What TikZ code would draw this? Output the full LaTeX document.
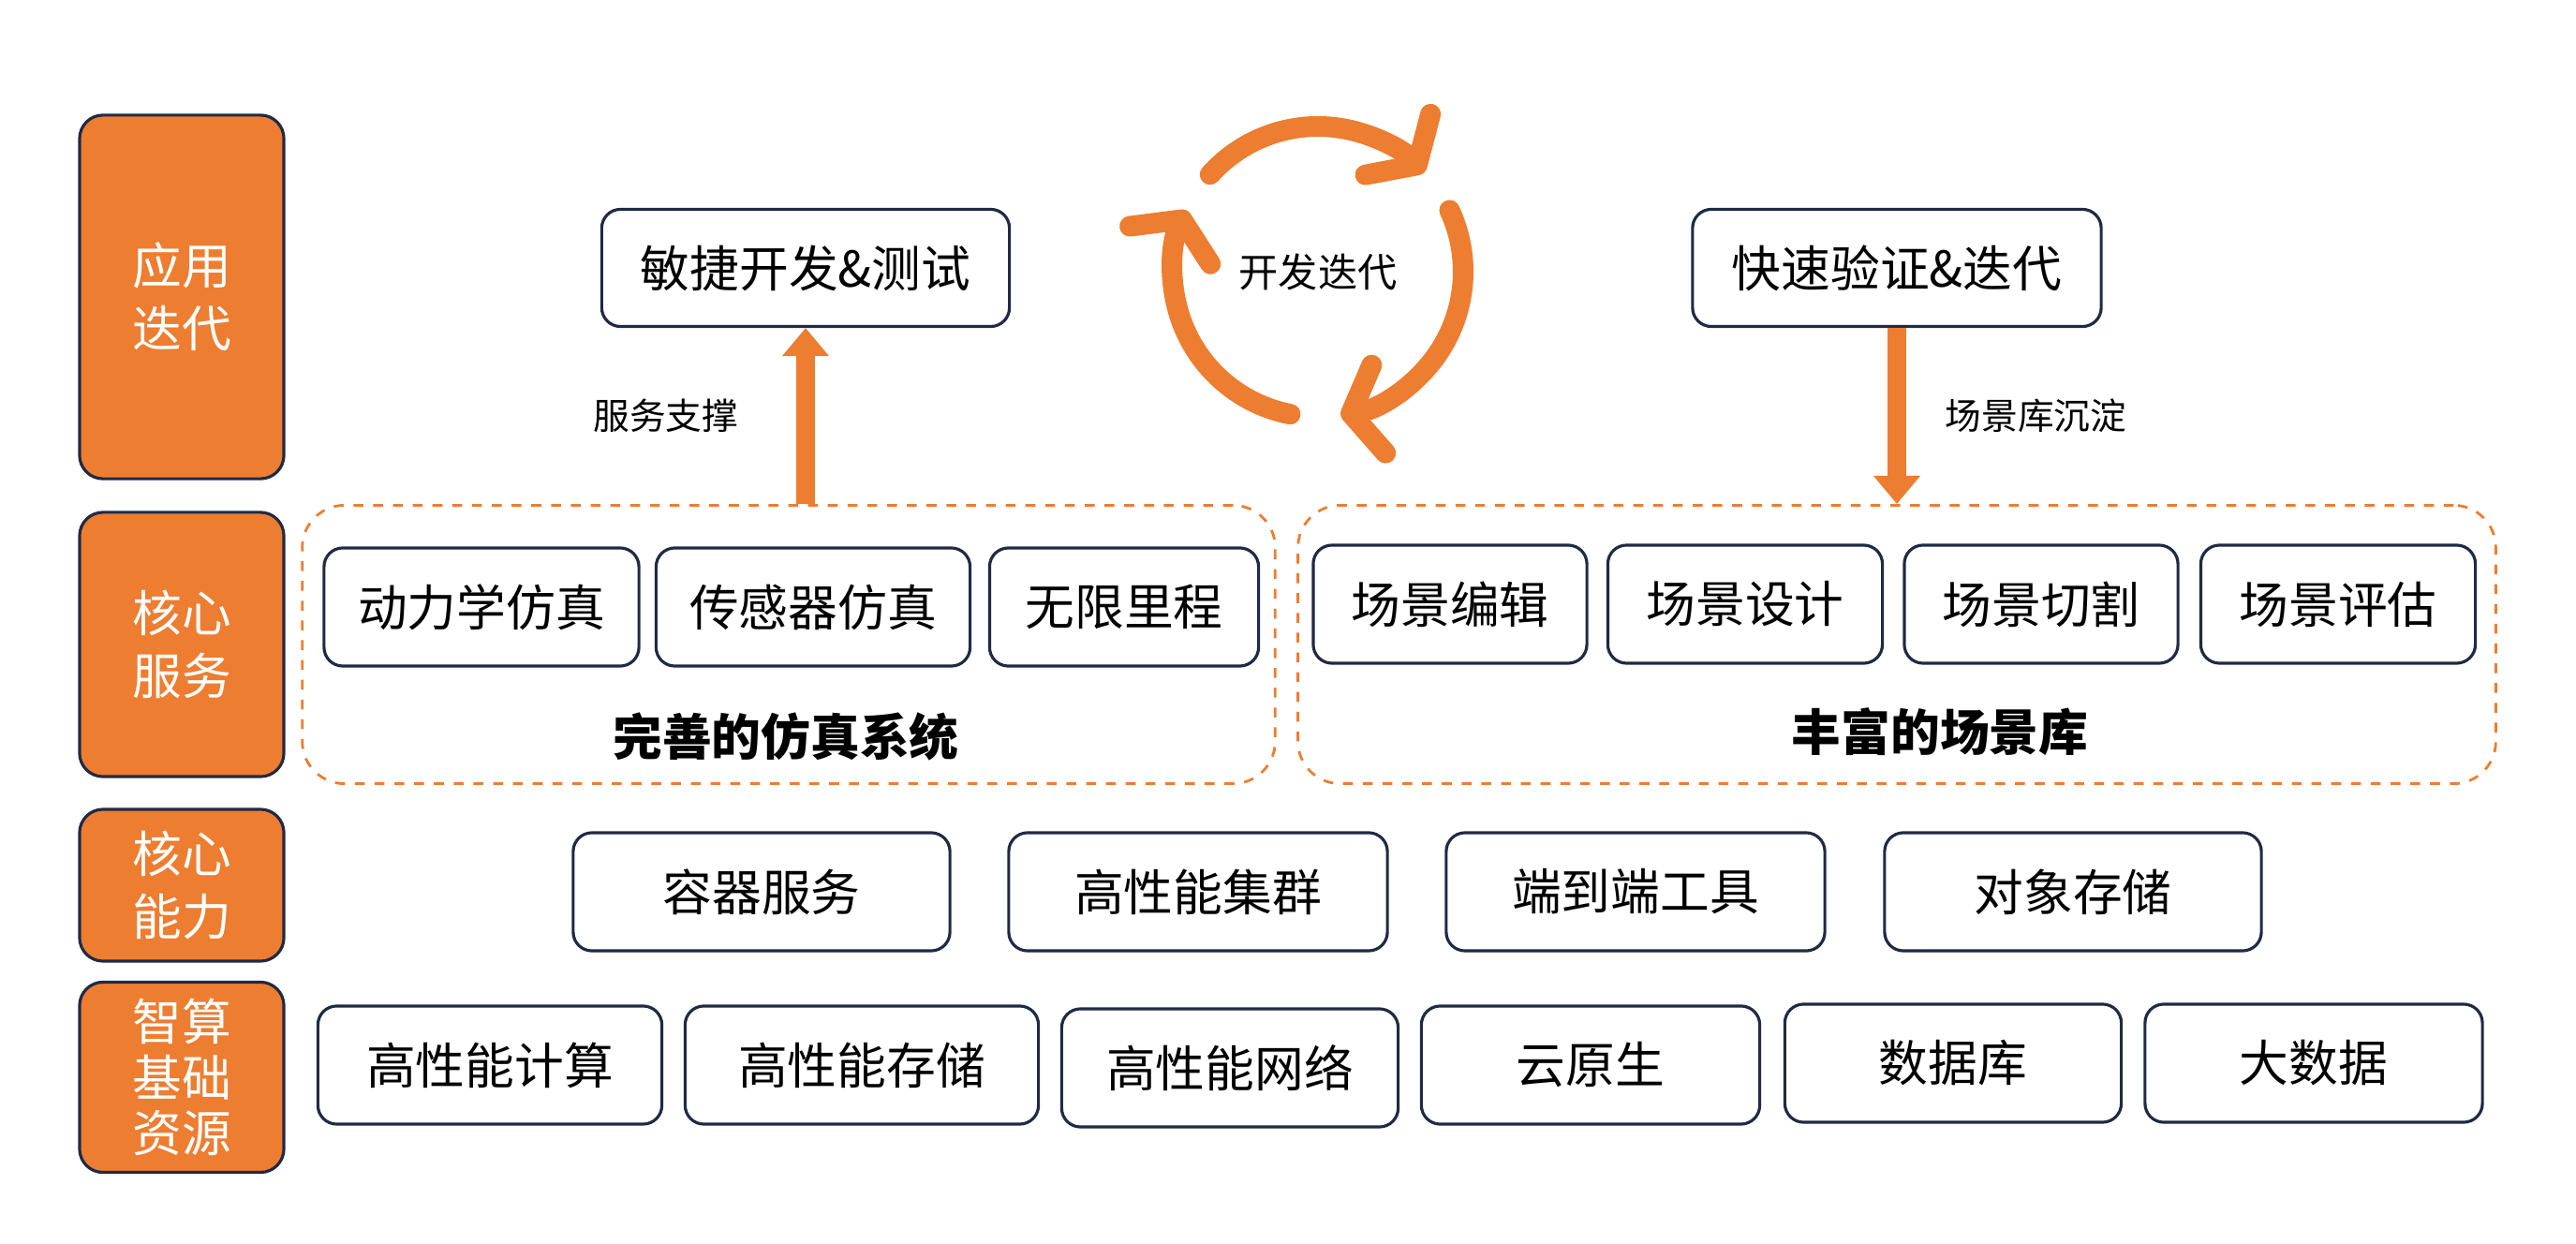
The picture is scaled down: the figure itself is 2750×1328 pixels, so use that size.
\documentclass[tikz,border=0pt]{standalone}
\usepackage{fontspec}
\setmainfont{Noto Sans CJK SC}
\usetikzlibrary{arrows.meta,positioning}
\definecolor{accent}{HTML}{ED7D31}
\definecolor{navy}{HTML}{1F2A44}

\begin{document}
\begin{tikzpicture}[x=0.01cm, y=-0.01cm]
    \tikzstyle{layer} = [rectangle, rounded corners=0.25cm, draw=navy, line width=0.9pt, fill=accent, text=white, font=\fontsize{15}{19}\selectfont, align=center]
    \tikzstyle{item} = [rectangle, rounded corners=0.2cm, draw=navy, line width=0.9pt, fill=white, font=\fontsize{15}{18}\selectfont, minimum height=1.26cm]
    \tikzstyle{group} = [rectangle, rounded corners=0.45cm, draw=accent, dashed, line width=0.8pt]
    \tikzstyle{note} = [font=\fontsize{11}{13}\selectfont]
    \tikzstyle{cycle} = [draw=accent, line width=0.22cm, line cap=round, -{Straight Barb[length=0.3cm,width=0.95cm,round]}]
    \tikzstyle{flow} = [draw=accent, line width=0.2cm, -{Triangle[length=0.3cm,width=0.48cm]}]

    \useasboundingbox (0,0) rectangle (2750,1328);

    % Layer labels
    \node [layer, minimum width=2.18cm, minimum height=3.88cm] (app) at (194,317) {应用\\迭代};
    \node [layer, minimum width=2.18cm, minimum height=2.82cm] (core) at (194,688) {核心\\服务};
    \node [layer, minimum width=2.18cm, minimum height=1.62cm] (ability) at (194,945) {核心\\能力};
    \node [layer, minimum width=2.18cm, minimum height=2.03cm, font=\fontsize{15}{17}\selectfont] (infra) at (194,1150) {智算\\基础\\资源};

    % Application iteration
    \node [item, minimum width=4.35cm, minimum height=1.25cm] (agile) at (860,286) {敏捷开发\&测试};
    \node [item, minimum width=4.36cm, minimum height=1.25cm] (verify) at (2025,286) {快速验证\&迭代};
    \coordinate (loop) at (1407,290);
    \node [note, font=\fontsize{12}{14}\selectfont] (looplabel) at (loop) {开发迭代};
    \draw [cycle] ([shift={(-138:155)}]loop) arc[start angle=-138, end angle=-43, radius=155];
    \draw [cycle] ([shift={(-25:155)}]loop) arc[start angle=-25, end angle=81, radius=155];
    \draw [cycle] ([shift={(101:155)}]loop) arc[start angle=101, end angle=205, radius=155];

    % Core services
    \node [group, minimum width=10.38cm, minimum height=2.97cm] (simgroup) at (842,688) {};
    \node [group, minimum width=12.78cm, minimum height=2.97cm] (scngroup) at (2025,688) {};
    \node [item, minimum width=3.36cm] (dyn) at (514,648) {动力学仿真};
    \node [item, minimum width=3.35cm] (sensor) at (868,648) {传感器仿真};
    \node [item, minimum width=2.87cm] (mileage) at (1200,648) {无限里程};
    \node [font=\fontsize{15}{18}\selectfont\bfseries] (simlabel) at (839,786) {完善的仿真系统};
    \node [item, minimum width=2.92cm] (edit) at (1548,645) {场景编辑};
    \node [item, minimum width=2.93cm] (design) at (1863,645) {场景设计};
    \node [item, minimum width=2.92cm] (cut) at (2179,645) {场景切割};
    \node [item, minimum width=2.93cm] (eval) at (2496,645) {场景评估};
    \node [font=\fontsize{15}{18}\selectfont\bfseries] (scnlabel) at (2071,781) {丰富的场景库};

    % Connections
    \draw [flow] (simgroup.north -| agile) -- (agile.south) node [note, pos=0.5, left=0.5cm] {服务支撑};
    \draw [flow] (verify.south) -- (scngroup.north -| verify) node [note, pos=0.5, right=0.3cm] {场景库沉淀};

    % Core abilities
    \node [item, minimum width=4.02cm] (container) at (813,952) {容器服务};
    \node [item, minimum width=4.04cm] (cluster) at (1279,952) {高性能集群};
    \node [item, minimum width=4.04cm] (e2e) at (1746,952) {端到端工具};
    \node [item, minimum width=4.02cm] (object) at (2213,952) {对象存储};

    % Infrastructure
    \node [item, minimum width=3.67cm] (hpc) at (523,1137) {高性能计算};
    \node [item, minimum width=3.77cm] (hps) at (920,1137) {高性能存储};
    \node [item, minimum width=3.59cm] (hpn) at (1313,1140) {高性能网络};
    \node [item, minimum width=3.61cm] (cloud) at (1698,1137) {云原生};
    \node [item, minimum width=3.59cm] (db) at (2085,1135) {数据库};
    \node [item, minimum width=3.6cm] (bigdata) at (2470,1135) {大数据};
\end{tikzpicture}
\end{document}
